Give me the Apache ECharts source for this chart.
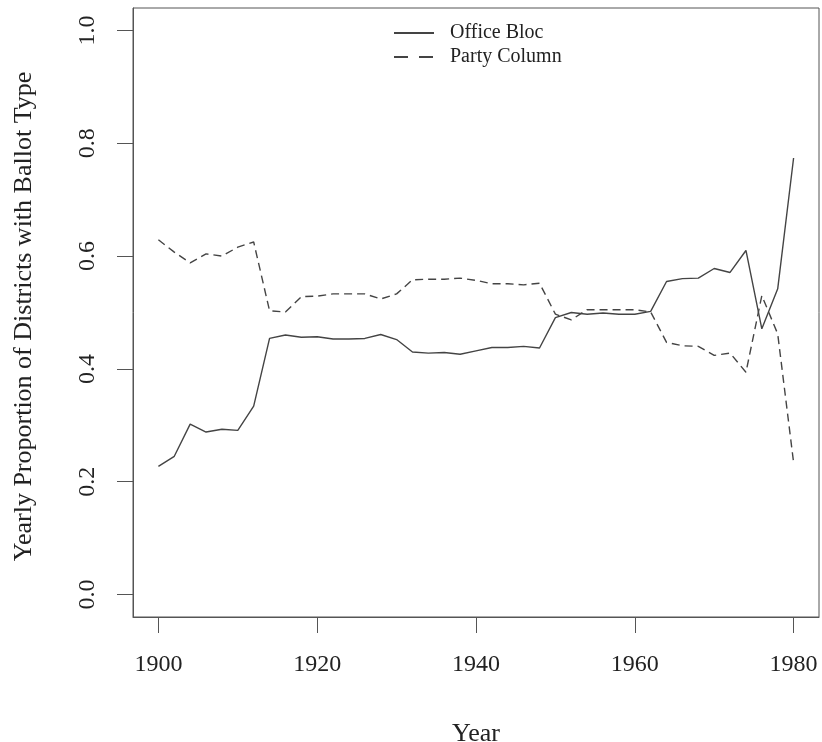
<!DOCTYPE html>
<html>
<head>
<meta charset="utf-8">
<script src="https://cdn.jsdelivr.net/npm/echarts@6/dist/echarts.min.js"></script>
<style>html,body{margin:0;padding:0;background:#fff;}#c{width:822px;height:742px;}</style>
</head>
<body>
<div id="c"></div>
<script>
const years = [1900,1902,1904,1906,1908,1910,1912,1914,1916,1918,1920,1922,1924,1926,1928,1930,1932,1934,1936,1938,1940,1942,1944,1946,1948,1950,1952,1954,1956,1958,1960,1962,1964,1966,1968,1970,1972,1974,1976,1978,1980];
const officeBloc = [0.227,0.245,0.302,0.288,0.293,0.291,0.334,0.454,0.460,0.456,0.457,0.453,0.453,0.454,0.461,0.452,0.430,0.428,0.429,0.426,0.432,0.438,0.438,0.440,0.437,0.491,0.500,0.497,0.499,0.497,0.497,0.502,0.555,0.560,0.561,0.578,0.571,0.610,0.471,0.542,0.774];
const partyColumn = [0.629,0.607,0.588,0.604,0.600,0.616,0.625,0.503,0.501,0.528,0.529,0.533,0.533,0.533,0.524,0.533,0.558,0.559,0.559,0.561,0.557,0.551,0.551,0.549,0.552,0.497,0.487,0.505,0.505,0.505,0.505,0.501,0.447,0.441,0.440,0.424,0.428,0.394,0.530,0.462,0.234];
const xTicks = [1900,1920,1940,1960,1980];
const yTicks = [0,0.2,0.4,0.6,0.8,1.0];
const seriesNames = ['Office Bloc','Party Column'];

const FONT = 'Liberation Serif';
const LINE = '#444';
const chart = echarts.init(document.getElementById('c'), null, {renderer:'canvas'});
chart.setOption({
  animation:false,
  backgroundColor:'#fff',
  grid:{left:133, top:8, right:3, bottom:125, show:true, borderColor:'#555', borderWidth:1,
    containLabel:false, outerBoundsMode:'none'},
  legend:{
    orient:'vertical', left:388, top:18, itemWidth:40, itemHeight:14, itemGap:4,
    itemStyle:{opacity:0},
    textStyle:{fontFamily:FONT, fontSize:20, color:'#222', padding:[0,0,0,11]},
    data:[
      {name:seriesNames[0], lineStyle:{type:'solid', width:2, color:LINE}},
      {name:seriesNames[1], lineStyle:{type:[14,11], width:2, color:LINE}}
    ]
  },
  xAxis:{
    type:'value', min:1896.8, max:1983.2,
    name:'Year', nameLocation:'middle', nameGap:104,
    nameTextStyle:{fontFamily:FONT, fontSize:26, color:'#222'},
    axisLine:{show:true, onZero:false, lineStyle:{color:'#555', width:1}},
    axisTick:{show:true, inside:false, length:16, customValues:xTicks, lineStyle:{color:'#555'}},
    axisLabel:{customValues:xTicks, margin:36, fontFamily:FONT, fontSize:24, color:'#222',
      formatter:v=>String(v)},
    splitLine:{show:false}
  },
  yAxis:{
    type:'value', min:-0.04, max:1.04,
    name:'Yearly Proportion of Districts with Ballot Type', nameLocation:'middle', nameGap:96, nameRotate:90,
    nameTextStyle:{fontFamily:FONT, fontSize:26, color:'#222', padding:[0,8,0,0]},
    axisLine:{show:true, onZero:false, lineStyle:{color:'#555', width:1}},
    axisTick:{show:true, inside:false, length:16, customValues:yTicks, lineStyle:{color:'#555'}},
    axisLabel:{customValues:yTicks, rotate:90, margin:33, fontFamily:FONT, fontSize:24, color:'#222',
      formatter:v=>v.toFixed(1)},
    splitLine:{show:false}
  },
  series:[
    {name:seriesNames[0], type:'line', symbol:'none', data:years.map((y,i)=>[y,officeBloc[i]]),
      lineStyle:{color:LINE, width:1.4, type:'solid'}, itemStyle:{color:LINE}},
    {name:seriesNames[1], type:'line', symbol:'none', data:years.map((y,i)=>[y,partyColumn[i]]),
      lineStyle:{color:LINE, width:1.4, type:[8,5]}, itemStyle:{color:LINE}}
  ]
});
</script>
</body>
</html>
